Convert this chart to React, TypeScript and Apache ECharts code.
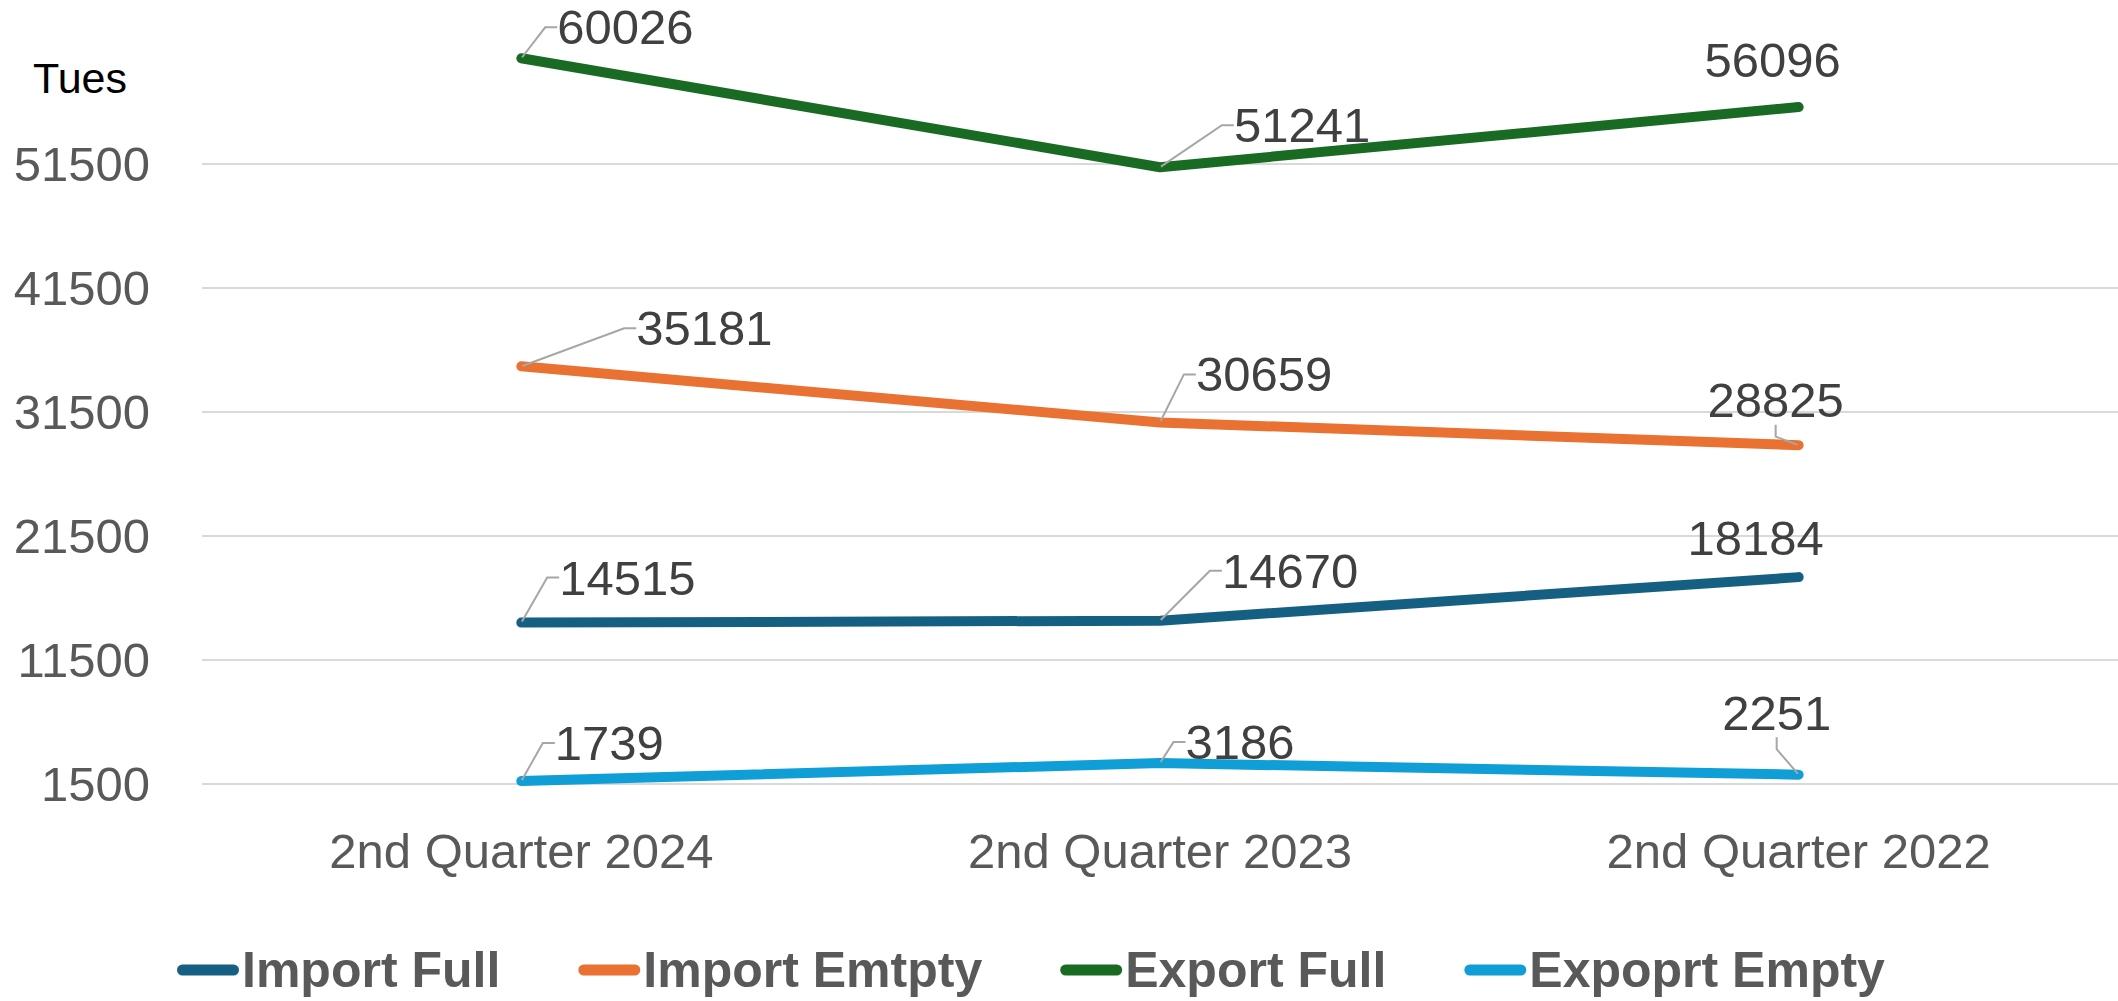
import React, { useEffect, useRef } from "react";
import * as echarts from "echarts";

const categories = ["2nd Quarter 2024", "2nd Quarter 2023", "2nd Quarter 2022"];
const seriesNames = ["Import Full", "Import Emtpty", "Export Full", "Expoprt Empty"];
const importFull = [14515, 14670, 18184];
const importEmpty = [35181, 30659, 28825];
const exportFull = [60026, 51241, 56096];
const exportEmpty = [1739, 3186, 2251];
const yAxisName = "Tues";

const seriesColors = ["#156082", "#E97132", "#196B24", "#0F9ED5"];
// label centre offsets from point (pixels) and whether a leader line is drawn
const labelOffsets = [
  [[106, -45], [130, -50], [-43, -39]],
  [[183, -38], [104, -48], [-23, -45]],
  [[104, -31], [142, -42], [-26, -47]],
  [[88, -38], [80, -21], [-22, -62]],
];
const leaderShown = [
  [true, true, false],
  [true, true, true],
  [true, true, false],
  [true, true, true],
];

const FONT = "'Liberation Sans', Arial, sans-serif";

export default function App() {
  const ref = useRef<HTMLDivElement>(null);
  useEffect(() => {
    if (!ref.current) return;
    const chart = echarts.init(ref.current, null, { renderer: "svg" });
    const values = [importFull, importEmpty, exportFull, exportEmpty];
    chart.setOption({
      animation: false,
      textStyle: { fontFamily: FONT },
      title: {
        text: yAxisName,
        left: 28,
        top: 51,
        textStyle: { fontSize: 43, color: "#000000", fontWeight: "normal", fontFamily: FONT },
      },
      grid: { left: 202, right: 0, top: 40, bottom: 217, containLabel: false },
      legend: {
        data: seriesNames,
        left: 177,
        top: 944,
        padding: 0,
        itemWidth: 62,
        itemHeight: 11,
        itemGap: 78,
        icon: "path://M5.5,0 H56.5 A5.5,5.5 0 0 1 56.5,11 H5.5 A5.5,5.5 0 0 1 5.5,0 Z",
        textStyle: {
          fontSize: 50,
          lineHeight: 52,
          fontWeight: "bold",
          color: "#595959",
          fontFamily: FONT,
          padding: [0, 0, 0, -2],
        },
      },
      xAxis: {
        type: "category",
        data: categories,
        boundaryGap: true,
        axisLine: { show: false },
        axisTick: { show: false },
        axisLabel: { fontSize: 49, color: "#595959", margin: 42, fontFamily: FONT },
      },
      yAxis: {
        type: "value",
        min: 1500,
        max: 61500,
        interval: 10000,
        axisLine: { show: false },
        axisTick: { show: false },
        axisLabel: {
          fontSize: 49,
          color: "#595959",
          margin: 52,
          showMaxLabel: false,
          fontFamily: FONT,
          formatter: (v: number) => String(v),
        },
        splitLine: { show: true, showMaxLine: false, lineStyle: { color: "#D9D9D9", width: 2 } },
      },
      series: values.map((vals, si) => ({
        name: seriesNames[si],
        type: "line",
        data: vals.map((v, i) => ({ value: v, labelLine: { show: leaderShown[si][i] } })),
        symbol: "circle",
        symbolSize: 2,
        showSymbol: true,
        color: seriesColors[si],
        itemStyle: { color: seriesColors[si] },
        lineStyle: { width: 10, color: seriesColors[si], cap: "round", join: "round" },
        label: {
          show: true,
          position: "inside",
          fontSize: 49,
          color: "#404040",
          fontFamily: FONT,
          padding: [0, 0, 0, 8],
        },
        labelLine: { show: true, length2: 12, lineStyle: { color: "#A6A6A6", width: 2 } },
        labelLayout: (params: any) => {
          const o = labelOffsets[si][params.dataIndex];
          return { dx: o[0] - 4, dy: o[1] };
        },
        emphasis: { disabled: true },
      })),
    });
    return () => chart.dispose();
  }, []);
  return (
    <div
      ref={ref}
      style={{ position: "absolute", left: 0, top: 0, width: 2118, height: 1001, background: "#fff" }}
    />
  );
}
